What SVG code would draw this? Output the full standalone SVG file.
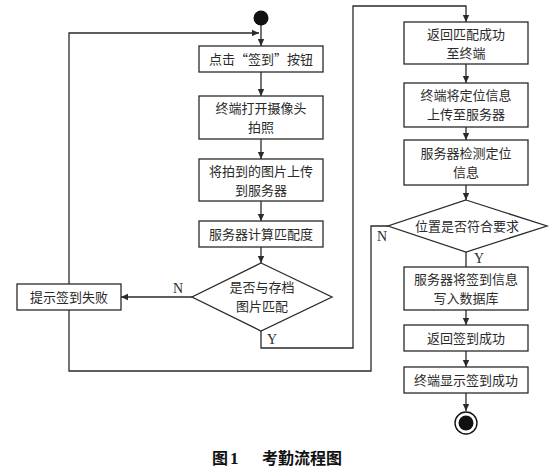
<svg xmlns="http://www.w3.org/2000/svg" width="560" height="476" viewBox="0 0 560 476">
<defs>
<marker id="ah" markerWidth="8" markerHeight="8" refX="7" refY="4" orient="auto" markerUnits="userSpaceOnUse">
<path d="M0,0.8 L7,4 L0,7.2 Z" fill="#2a2a2a"/>
</marker>
<style>
.box{fill:#fff;stroke:#2a2a2a;stroke-width:1.3}
.ln{fill:none;stroke:#2a2a2a;stroke-width:1.3}
.t{font-family:"Noto Sans CJK SC","Noto Sans CJK JP",sans-serif;font-size:13px;fill:#2a2a2a;text-anchor:middle}
.l{font-family:"Liberation Serif",serif;font-size:14px;fill:#2a2a2a;text-anchor:middle}
.cap{font-family:"Noto Sans CJK SC",sans-serif;font-size:16px;font-weight:bold;fill:#111}
</style>
</defs>
<rect width="560" height="476" fill="#fff"/>
<g id="connectors">
<path class="ln" d="M261,25 V46" marker-end="url(#ah)"/>
<path class="ln" d="M69,284 V33 H259" marker-end="url(#ah)"/>
<path class="ln" d="M261,72 V96" marker-end="url(#ah)"/>
<path class="ln" d="M261,139 V159" marker-end="url(#ah)"/>
<path class="ln" d="M261,201 V221" marker-end="url(#ah)"/>
<path class="ln" d="M261,247 V263" marker-end="url(#ah)"/>
<path class="ln" d="M192,297 H121" marker-end="url(#ah)"/>
<path class="ln" d="M261,331 V348 H353 V6 H466 V22" marker-end="url(#ah)"/>
<path class="ln" d="M466,64 V83" marker-end="url(#ah)"/>
<path class="ln" d="M466,127 V140" marker-end="url(#ah)"/>
<path class="ln" d="M466,185 V200" marker-end="url(#ah)"/>
<path class="ln" d="M466,252 V267"/>
<path class="ln" d="M388,226 H371 V371 H69 V302" marker-end="url(#ah)"/>
<path class="ln" d="M466,310 V325" marker-end="url(#ah)"/>
<path class="ln" d="M466,351 V367" marker-end="url(#ah)"/>
<path class="ln" d="M466,393 V411" marker-end="url(#ah)"/>
<text class="l" x="178" y="293">N</text>
<text class="l" x="272" y="344">Y</text>
<text class="l" x="382" y="241">N</text>
<text class="l" x="479" y="263">Y</text>
</g>
<g id="start"><circle cx="261" cy="18" r="7.5" fill="#111"/></g>
<g id="n1"><rect class="box" x="199" y="46" width="124" height="26"/><text class="t" x="261" y="64">点击“签到”按钮</text></g>
<g id="n2"><rect class="box" x="199" y="96" width="124" height="43"/><text class="t" x="261" y="113">终端打开摄像头</text><text class="t" x="261" y="132">拍照</text></g>
<g id="n3"><rect class="box" x="199" y="159" width="124" height="42"/><text class="t" x="261" y="176">将拍到的图片上传</text><text class="t" x="261" y="195">到服务器</text></g>
<g id="n4"><rect class="box" x="199" y="221" width="124" height="26"/><text class="t" x="261" y="239">服务器计算匹配度</text></g>
<g id="d1"><polygon class="box" points="261,263 332,297 261,331 192,297"/><text class="t" x="262" y="292">是否与存档</text><text class="t" x="262" y="311">图片匹配</text></g>
<g id="fail"><rect class="box" x="17" y="284" width="104" height="26"/><text class="t" x="69" y="302">提示签到失败</text></g>
<g id="r1"><rect class="box" x="404" y="22" width="124" height="42"/><text class="t" x="466" y="39">返回匹配成功</text><text class="t" x="466" y="58">至终端</text></g>
<g id="r2"><rect class="box" x="404" y="83" width="124" height="44"/><text class="t" x="466" y="100">终端将定位信息</text><text class="t" x="466" y="119">上传至服务器</text></g>
<g id="r3"><rect class="box" x="404" y="140" width="124" height="45"/><text class="t" x="466" y="158">服务器检测定位</text><text class="t" x="466" y="177">信息</text></g>
<g id="d2"><polygon class="box" points="466,200 547,226 466,252 388,226"/><text class="t" x="467" y="231">位置是否符合要求</text></g>
<g id="r4"><rect class="box" x="404" y="267" width="124" height="43"/><text class="t" x="466" y="284">服务器将签到信息</text><text class="t" x="466" y="303">写入数据库</text></g>
<g id="r5"><rect class="box" x="404" y="325" width="124" height="26"/><text class="t" x="466" y="343">返回签到成功</text></g>
<g id="r6"><rect class="box" x="404" y="367" width="124" height="26"/><text class="t" x="466" y="385">终端显示签到成功</text></g>
<g id="end"><circle cx="466" cy="423" r="11" fill="#fff" stroke="#111" stroke-width="1.4"/><circle cx="466" cy="423" r="7.5" fill="#111"/></g>
<text class="cap" x="212" y="464">图</text>
<text x="230" y="464" style="font-family:'Liberation Serif',serif;font-size:17px;font-weight:bold;fill:#111">1</text>
<text class="cap" x="262" y="464">考勤流程图</text>
</svg>
